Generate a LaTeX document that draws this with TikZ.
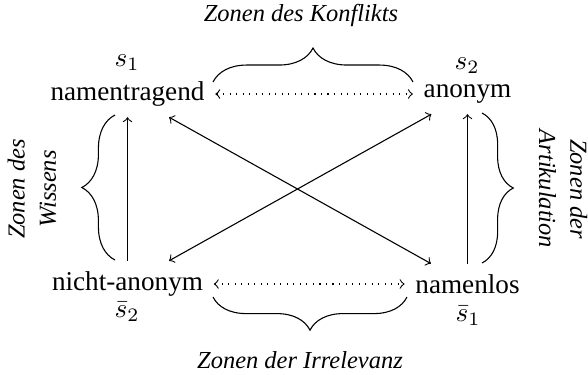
\documentclass[tikz,border=0pt]{standalone}
\usepackage{fontspec}
\setmainfont{Liberation Serif}
\usetikzlibrary{decorations.pathreplacing}
\begin{document}
\begin{tikzpicture}[x=0.368pt,y=-0.368pt,
  term/.style={inner sep=3.8pt,font=\fontsize{10}{12}\selectfont},
  zone/.style={font=\fontsize{9}{11.5}\selectfont\itshape,align=center,inner sep=0pt},
  dotarrow/.style={dotted,<->},
  solidarrow/.style={->},
  bothways/.style={<->},
  zonebrace/.style={decorate,decoration={brace,amplitude=#1}}]
\useasboundingbox (0,0) rectangle (588,374);
\node[term] (A) at (127.5,94) {namentragend};
\node[term] (B) at (467.5,94) {anonym};
\node[term] (C) at (127.5,284) {nicht-anonym};
\node[term] (D) at (467.5,284) {namenlos};
\node (sA) at (127,63) {$s_1$};
\node (sB) at (467,66) {$s_2$};
\node (sC) at (127,312) {$\bar{s}_2$};
\node (sD) at (468,316) {$\bar{s}_1$};
\draw[dotarrow] (A) -- (B);
\draw[dotarrow] (C) -- (D);
\draw[solidarrow] (C) -- (A);
\draw[solidarrow] (D) -- (B);
\draw[bothways] (A) -- (D);
\draw[bothways] (C) -- (B);
\draw[zonebrace=12.5pt] (213,82) -- (413,82);
\draw[zonebrace=12.2pt] (407,297) -- (213,297);
\draw[zonebrace=12.2pt] (115,260) -- (115,115);
\draw[zonebrace=11.5pt] (482,113) -- (482,263);
\node[zone] (zk) at (301,15) {Zonen des Konflikts};
\node[zone] (zi) at (300,360) {Zonen der Irrelevanz};
\node[zone,rotate=90] (zw) at (32,189) {Zonen des\\Wissens};
\node[zone,rotate=-90] (za) at (563,189) {Zonen der\\Artikulation};
\end{tikzpicture}
\end{document}
